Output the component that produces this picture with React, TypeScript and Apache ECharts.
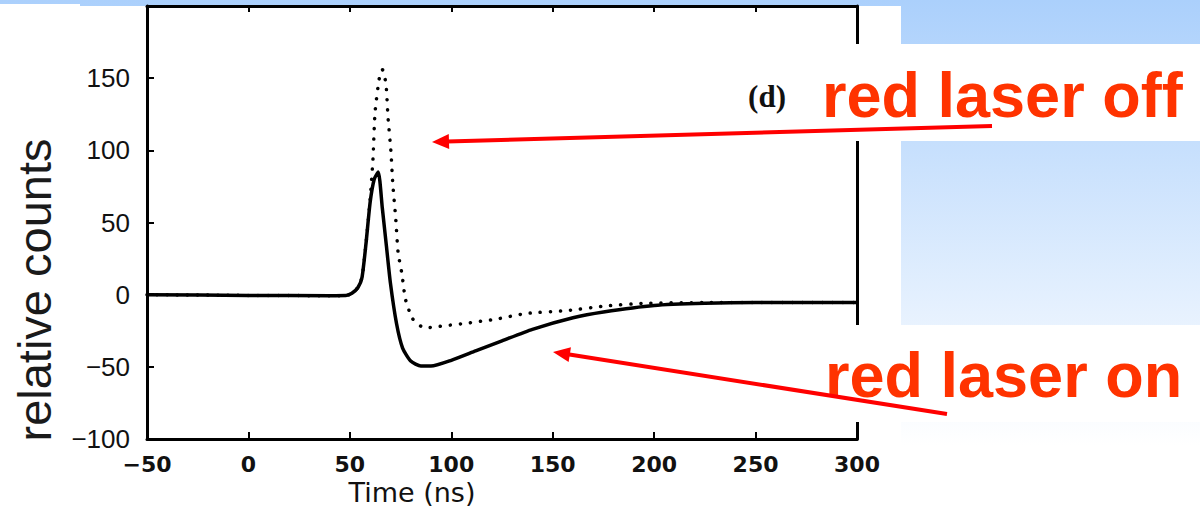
import React, { useEffect, useRef } from "react";
import * as echarts from "echarts";

// ---- data ----
const laserOnTime = [-50, 0, 40, 48, 51, 54, 56, 58, 60, 62, 64, 66, 68, 70, 73, 76, 80, 85, 90, 100, 112, 125, 140, 160, 175, 200, 225, 250, 275, 300];
const laserOnCounts = [0, -0.5, -0.7, -0.6, 1, 5, 12, 36, 64, 80, 85, 60, 34, 8, -20, -37, -46, -49.5, -49.5, -45.5, -39, -32, -24, -16, -12, -7.5, -6, -5.5, -5.5, -5.5];

const laserOffTime = [-50, 0, 40, 48, 51, 54, 56, 58, 60, 61.4, 62.4, 64.4, 66, 67.8, 68.8, 70.2, 71.2, 72.6, 73.8, 75.7, 77.2, 78.7, 80.6, 83, 87, 94, 106, 122, 137, 157, 175, 195, 225, 250, 275, 300];
const laserOffCounts = [0, -0.5, -0.7, -0.6, 1, 5, 12, 36, 66, 94, 126, 149, 156, 146, 123, 100, 76, 53, 29, 14, -2, -9, -16, -20, -23, -22, -20, -17, -13, -11, -8, -6, -5.5, -5.5, -5.5, -5.5];

const xTicks = [-50, 0, 50, 100, 150, 200, 250, 300];
const xTickLabels = ["\u221250", "0", "50", "100", "150", "200", "250", "300"];
const yTicks = [-100, -50, 0, 50, 100, 150, 200];
const yTickLabels = ["\u2212100", "\u221250", "0", "50", "100", "150", ""];

const xName = "Time (ns)";
const yName = "relative counts";
const panelLabel = "(d)";
const noteOff = "red laser off";
const noteOn = "red laser on";

function arrow(x1: number, y1: number, tx: number, ty: number, color: string) {
  const dx = tx - x1;
  const dy = ty - y1;
  const len = Math.sqrt(dx * dx + dy * dy);
  const ux = dx / len;
  const uy = dy / len;
  const hl = 17;
  const hw = 7.5;
  const bx = tx - ux * hl;
  const by = ty - uy * hl;
  const nx = -uy;
  const ny = ux;
  return [
    {
      type: "line",
      z: 100,
      shape: { x1, y1, x2: bx + ux * 2, y2: by + uy * 2 },
      style: { stroke: color, lineWidth: 4 },
    },
    {
      type: "polygon",
      z: 100,
      shape: {
        points: [
          [tx, ty],
          [bx + nx * hw, by + ny * hw],
          [bx - nx * hw, by - ny * hw],
        ],
      },
      style: { fill: color },
    },
  ];
}

export default function App() {
  const ref = useRef<HTMLDivElement>(null);

  useEffect(() => {
    if (!ref.current) return;
    const chart = echarts.init(ref.current, undefined, { renderer: "svg" });

    const xFmt = (v: number) => {
      const i = xTicks.indexOf(v);
      return i >= 0 ? xTickLabels[i] : "";
    };
    const yFmt = (v: number) => {
      const i = yTicks.indexOf(v);
      return i >= 0 ? yTickLabels[i] : "";
    };

    const axisLine = { show: true, onZero: false, lineStyle: { color: "#000", width: 3 } };

    chart.setOption({
      animation: false,
      backgroundColor: "transparent",
      grid: { left: 147, top: 6, width: 710, height: 433, containLabel: false },
      xAxis: [
        {
          type: "value",
          position: "bottom",
          min: -50,
          max: 300,
          interval: 50,
          axisLine,
          axisTick: { show: true, inside: true, length: 7, lineStyle: { color: "#000", width: 2 } },
          axisLabel: {
            formatter: xFmt,
            margin: 14,
            color: "#111",
            fontFamily: "DejaVu Sans",
            fontWeight: "bold",
            fontSize: 22,
          },
          splitLine: { show: false },
        },
        {
          type: "value",
          position: "top",
          min: -50,
          max: 300,
          interval: 50,
          axisLine,
          axisTick: { show: true, inside: true, length: 6, lineStyle: { color: "#000", width: 2 } },
          axisLabel: { show: false },
          splitLine: { show: false },
        },
      ],
      yAxis: [
        {
          type: "value",
          position: "left",
          min: -100,
          max: 200,
          interval: 50,
          axisLine,
          axisTick: { show: true, inside: true, length: 7, lineStyle: { color: "#000", width: 2 } },
          axisLabel: {
            formatter: yFmt,
            margin: 17,
            color: "#111",
            fontFamily: "Liberation Sans",
            fontSize: 26,
          },
          splitLine: { show: false },
        },
        {
          type: "value",
          position: "right",
          min: -100,
          max: 200,
          interval: 50,
          axisLine,
          axisTick: { show: false },
          axisLabel: { show: false },
          splitLine: { show: false },
        },
      ],
      series: [
        {
          name: noteOff,
          type: "line",
          xAxisIndex: 0,
          yAxisIndex: 0,
          data: laserOffTime.map((t, i) => [t, laserOffCounts[i]]),
          showSymbol: false,
          smooth: 0.2,
          lineStyle: { color: "#000", width: 3.5, type: [0.1, 10], cap: "round" },
          z: 3,
        },
        {
          name: noteOn,
          type: "line",
          xAxisIndex: 0,
          yAxisIndex: 0,
          data: laserOnTime.map((t, i) => [t, laserOnCounts[i]]),
          showSymbol: false,
          smooth: 0.2,
          lineStyle: { color: "#000", width: 3.5, join: "round" },
          z: 4,
        },
      ],
      graphic: [
        {
          type: "rect",
          z: -20,
          shape: { x: 0, y: 0, width: 1200, height: 524 },
          style: {
            fill: new echarts.graphic.LinearGradient(0, 0, 0, 1, [
              { offset: 0, color: "#abd0fc" },
              { offset: 0.85, color: "#ffffff" },
              { offset: 1, color: "#ffffff" },
            ]),
          },
        },
        { type: "rect", z: -10, shape: { x: 0, y: 6, width: 901, height: 518 }, style: { fill: "#fff" } },
        { type: "rect", z: -10, shape: { x: 0, y: 4, width: 80, height: 3 }, style: { fill: "#fff" } },
        { type: "rect", z: 50, shape: { x: 812, y: 44, width: 388, height: 97 }, style: { fill: "#fff" } },
        { type: "rect", z: 50, shape: { x: 812, y: 325, width: 388, height: 97 }, style: { fill: "#fff" } },
        {
          type: "text",
          z: 100,
          x: 34,
          y: 290,
          rotation: Math.PI / 2,
          style: {
            text: yName,
            fontFamily: "Liberation Sans",
            fontSize: 47,
            fill: "#1a1a1a",
            align: "center",
            verticalAlign: "middle",
          },
        },
        {
          type: "text",
          z: 100,
          x: 412,
          y: 492,
          style: {
            text: xName,
            fontFamily: "DejaVu Sans",
            fontSize: 27,
            fill: "#111",
            align: "center",
            verticalAlign: "middle",
          },
        },
        {
          type: "text",
          z: 100,
          x: 767,
          y: 96,
          style: {
            text: panelLabel,
            fontFamily: "Liberation Serif",
            fontWeight: "bold",
            fontSize: 31,
            fill: "#111",
            align: "center",
            verticalAlign: "middle",
          },
        },
        {
          type: "text",
          z: 100,
          x: 822,
          y: 95,
          style: {
            text: noteOff,
            fontFamily: "Liberation Sans",
            fontWeight: "bold",
            fontSize: 63,
            fill: "#ff3300",
            align: "left",
            verticalAlign: "middle",
          },
        },
        {
          type: "text",
          z: 100,
          x: 825,
          y: 375,
          style: {
            text: noteOn,
            fontFamily: "Liberation Sans",
            fontWeight: "bold",
            fontSize: 63,
            fill: "#ff3300",
            align: "left",
            verticalAlign: "middle",
          },
        },
        ...arrow(992, 126, 432, 142, "#ff0000"),
        ...arrow(947, 414, 553, 352, "#ff0000"),
      ],
    });

    return () => chart.dispose();
  }, []);

  return (
    <div
      ref={ref}
      style={{ position: "absolute", left: 0, top: 0, width: 1200, height: 524 }}
    />
  );
}
